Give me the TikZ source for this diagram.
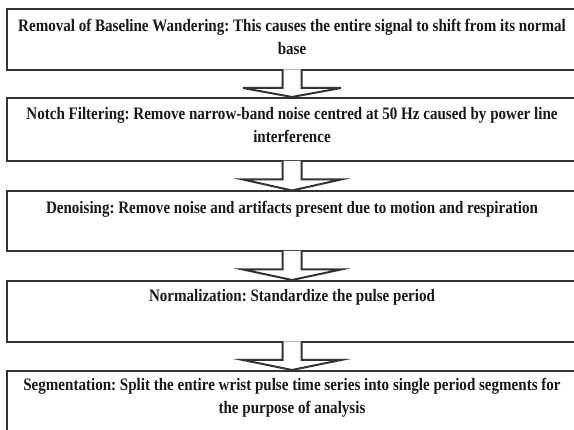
\documentclass[tikz,border=0pt]{standalone}
\usepackage{fontspec}
\setmainfont{Liberation Serif}[FakeStretch=0.86]
\usetikzlibrary{calc}
\tikzset{
  stagebox/.style={draw=black!80, line width=2pt, fill=white, rectangle, minimum width=570pt, inner sep=0pt},
  stagetext/.style={anchor=north, align=center, inner sep=0pt, font=\fontsize{17.5pt}{23pt}\selectfont\bfseries\frenchspacing, text=black!90},
  blockarrow/.style={draw=black!80, line width=2pt, fill=white, line join=miter}
}
\newcommand{\flowarrow}[2]{%
  \filldraw[blockarrow] ([xshift=-9.5pt,yshift=1.5pt]#1.south) -- ([xshift=-9.5pt,yshift=-17pt]#1.south)
    -- ([xshift=-49pt,yshift=-17pt]#1.south) -- (#2.north)
    -- ([xshift=49pt,yshift=-17pt]#1.south) -- ([xshift=9.5pt,yshift=-17pt]#1.south)
    -- ([xshift=9.5pt,yshift=1.5pt]#1.south);}
\begin{document}
\begin{tikzpicture}[x=1pt,y=-1pt]
\clip (0,0) rectangle (574,430);
\fill[white] (0,0) rectangle (574,430);
\node[stagebox, minimum height=60.5pt] (b1) at (292,39.75) {};
\node[stagebox, minimum height=63.5pt] (b2) at (292,129.75) {};
\node[stagebox, minimum height=60pt] (b3) at (292,221.5) {};
\node[stagebox, minimum height=61pt] (b4) at (292,311.5) {};
\node[stagebox, minimum height=80pt] (b5) at (292,411) {};
\node[stagetext] (t1) at ([yshift=-10pt]b1.north) {Removal of Baseline Wandering: This causes the entire signal to shift from its normal\\base};
\node[stagetext] (t2) at ([yshift=-10pt]b2.north) {Notch Filtering: Remove narrow-band noise centred at 50 Hz caused by power line\\interference};
\node[stagetext] (t3) at ([yshift=-10pt]b3.north) {Denoising: Remove noise and artifacts present due to motion and respiration};
\node[stagetext] (t4) at ([yshift=-9pt]b4.north) {Normalization: Standardize the pulse period};
\node[stagetext] (t5) at ([yshift=-8pt]b5.north) {Segmentation: Split the entire wrist pulse time series into single period segments for\\the purpose of analysis};
\flowarrow{b1}{b2}
\flowarrow{b2}{b3}
\flowarrow{b3}{b4}
\flowarrow{b4}{b5}
\end{tikzpicture}
\end{document}
